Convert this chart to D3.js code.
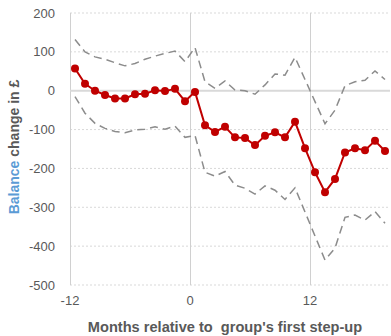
<!DOCTYPE html>
<html><head><meta charset="utf-8">
<script src="https://cdn.jsdelivr.net/npm/d3@7"></script>
<style>
html,body{margin:0;padding:0;background:#fff;}
svg{display:block;font-family:"Liberation Sans",Arial,sans-serif;}
</style></head>
<body>
<svg id="chart" width="391" height="336"></svg>
<script>
const months = d3.range(-12, 20);
const estimate = [57,18,0,-11,-20,-20,-9,-8,1,-1,5,-27,-3,-89,-106,-93,-120,-122,-140,-116,-107,-120,-80,-148,-210,-261,-227,-159,-148,-153,-129,-155];
const upperCI = [132,100,87,81,72,64,70,81,89,96,102,75,111,23,6,25,2,0,-9,15,43,40,86,29,-28,-85,-50,13,23,27,51,29];
const lowerCI = [-15,-58,-84,-97,-105,-108,-101,-99,-93,-99,-91,-120,-115,-210,-220,-208,-243,-251,-266,-245,-256,-280,-250,-312,-374,-436,-405,-326,-320,-333,-311,-341];
const yTicks = [200,100,0,-100,-200,-300,-400,-500];
const xTickLabels = [-12, 0, 12];

(function () {
const svg = d3.select("#chart");
const pLeft = 70, pRight = 390, pTop = 13, pBottom = 285;

const x = d3.scaleLinear().domain([-12.5, 19.5]).range([pLeft, pRight]);
const y = d3.scaleLinear().domain([-500, 200]).range([pBottom, pTop]);

svg.append("g").selectAll("line").data(yTicks.filter(d => d !== 0)).join("line")
  .attr("x1", pLeft).attr("x2", pRight)
  .attr("y1", d => y(d)).attr("y2", d => y(d))
  .attr("stroke", "#d9d9d9").attr("stroke-width", 1).attr("stroke-dasharray", "2,2");
svg.append("g").selectAll("line").data(xTickLabels).join("line")
  .attr("x1", d => Math.round(x(d - 0.5)) + 0.5).attr("x2", d => Math.round(x(d - 0.5)) + 0.5)
  .attr("y1", pTop).attr("y2", pBottom)
  .attr("stroke", "#d0d0d0").attr("stroke-width", 1);
svg.append("line").attr("x1", pLeft).attr("x2", pRight)
  .attr("y1", y(0)).attr("y2", y(0))
  .attr("stroke", "#d9d9d9").attr("stroke-width", 2);

svg.append("g").selectAll("text").data(yTicks).join("text")
  .attr("x", 55).attr("y", d => y(d)).attr("dy", "0.35em")
  .attr("text-anchor", "end").attr("fill", "#595959").attr("font-size", 13)
  .text(d => d);
svg.append("g").selectAll("text").data(xTickLabels).join("text")
  .attr("x", d => x(d - 0.5)).attr("y", 305)
  .attr("text-anchor", "middle").attr("fill", "#595959").attr("font-size", 13)
  .text(d => d);

const line = d3.line().x((d, i) => x(months[i])).y(d => y(d));

[upperCI, lowerCI].forEach(arr => {
  svg.append("path").datum(arr).attr("d", line)
    .attr("fill", "none").attr("stroke", "#8c8c8c").attr("stroke-width", 1.5)
    .attr("stroke-dasharray", "8,5");
});

svg.append("path").datum(estimate).attr("d", line)
  .attr("fill", "none").attr("stroke", "#c00000").attr("stroke-width", 2);
svg.append("g").selectAll("circle").data(estimate).join("circle")
  .attr("cx", (d, i) => x(months[i])).attr("cy", d => y(d)).attr("r", 4)
  .attr("fill", "#c00000");

const yt = svg.append("text")
  .attr("transform", "translate(19,147) rotate(-90)")
  .attr("text-anchor", "middle").attr("font-size", 14).attr("font-weight", "bold");
yt.append("tspan").attr("fill", "#5b9bd5").text("Balance");
yt.append("tspan").attr("fill", "#595959").text(" change in £");

svg.append("text").attr("x", 225).attr("y", 332)
  .attr("text-anchor", "middle").attr("font-size", 14.6).attr("font-weight", "bold")
  .attr("fill", "#595959").style("white-space", "pre")
  .text("Months relative to  group's first step-up");
})();
</script>
</body></html>
